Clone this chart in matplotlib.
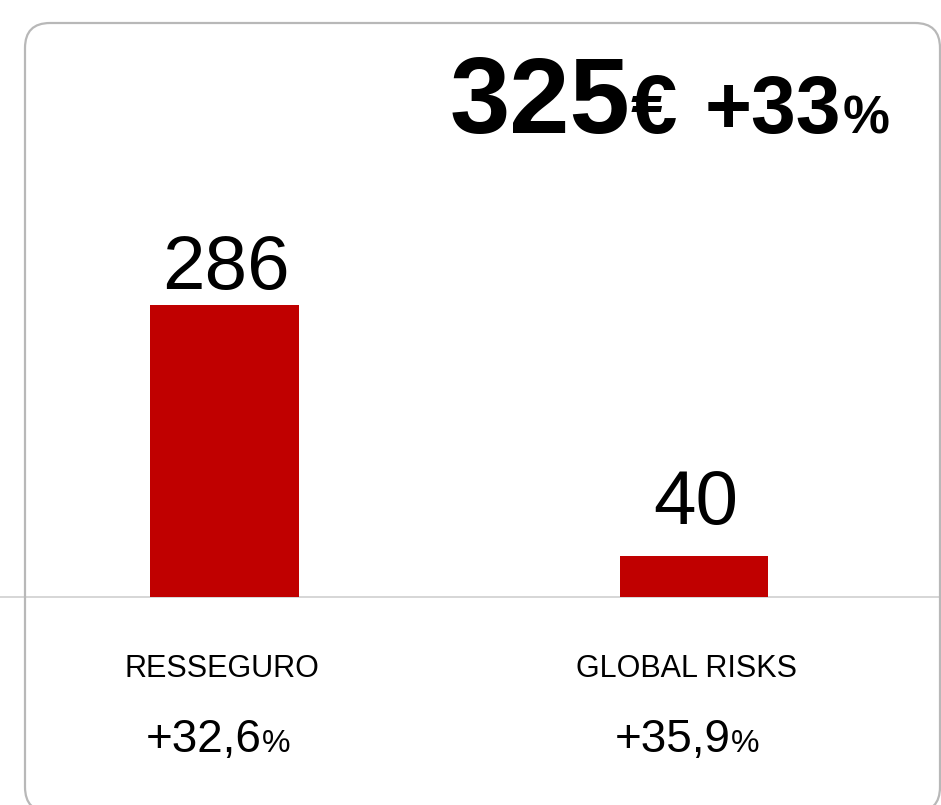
import matplotlib
matplotlib.use("Agg")
import matplotlib.pyplot as plt
from matplotlib.patches import FancyBboxPatch
from matplotlib.transforms import IdentityTransform

# data
categories = ["RESSEGURO", "GLOBAL RISKS"]
values = [286, 40]
growth = ["+32,6", "+35,9"]
total_value = "325"
total_growth = "+33"

W, H = 941, 805
plt.rcParams["font.family"] = ["Liberation Sans", "DejaVu Sans"]

fig = plt.figure(figsize=(W / 100, H / 100), dpi=100)
fig.patch.set_facecolor("white")

# axes cover the whole figure, baseline sits at y=597px from the top
px_per_unit = 1.02
base_px = 597
ax = fig.add_axes([0, 0, 1, 1])
ax.set_xlim(-0.478, 1.526)
ax.set_ylim(-(H - base_px) / px_per_unit, base_px / px_per_unit)
ax.axis("off")

x = list(range(len(values)))
ax.axhline(0, color="#d0d0d0", lw=1.2, zorder=2)
ax.bar(x, values, width=0.317, color="#C00000", zorder=3)

# value labels above bars (gap in px)
label_pad = [16, 32]
for i, v in enumerate(values):
    ax.annotate(str(v), (i, v), xytext=(1, label_pad[i] * 0.72), textcoords="offset points",
                ha="center", va="baseline", fontsize=55)


def draw_runs(runs, x_px, y_px, ha):
    # runs of (text, size, weight, gap before in px) on one baseline; coords in px from top-left
    texts = [fig.text(0, 0, s, fontsize=fs, fontweight=fw, ha="left", va="baseline",
                      transform=IdentityTransform()) for s, fs, fw, _ in runs]
    r = fig.canvas.get_renderer()
    widths = [t.get_window_extent(r).width + g for t, (_, _, _, g) in zip(texts, runs)]
    total = sum(widths)
    start = {"left": x_px, "center": x_px - total / 2, "right": x_px - total}[ha]
    for t, w, run in zip(texts, widths, runs):
        start += run[3]
        t.set_position((start, H - y_px))
        start += w - run[3]


# category names and growth under the axis
cat_cx = [222, 686]
pct_cx = [218, 687]
for i, name in enumerate(categories):
    draw_runs([(name, 22, "normal", 0)], cat_cx[i], 677, "center")
    draw_runs([(growth[i], 33, "normal", 0), ("%", 23, "normal", 0)], pct_cx[i], 752, "center")

# headline total
draw_runs([(total_value, 78, "bold", 0), ("€", 60, "bold", 0), (total_growth, 58, "bold", 28),
           ("%", 38, "bold", 2)], 890, 133, "right")

# rounded card border (bottom runs off the image)
card = FancyBboxPatch((25, H - 812), 915, 789, boxstyle="round,pad=0,rounding_size=25",
                      transform=IdentityTransform(), facecolor="none", edgecolor="#b8b8b8",
                      lw=1.6, zorder=5)
fig.add_artist(card)

fig.savefig("out.png", dpi=100)
